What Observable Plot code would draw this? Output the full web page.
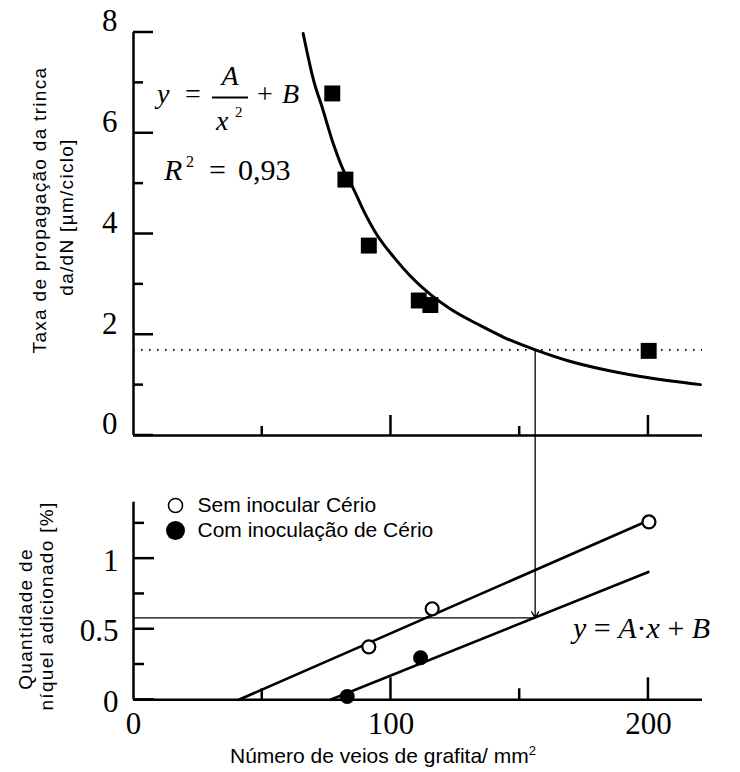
<!DOCTYPE html>
<html>
<head>
<meta charset="utf-8">
<script src="https://cdn.jsdelivr.net/npm/d3@7"></script>
<script src="https://cdn.jsdelivr.net/npm/@observablehq/plot@0.6"></script>
<style>
  body { margin: 0; background: #fff; }
  #chart { position: relative; width: 740px; height: 772px; background: #fff; }
  #chart svg { position: absolute; left: 0; }
</style>
</head>
<body>
<div id="chart"></div>
<script>
// ---- Crack growth rate vs. graphite vein count (upper panel) ----
const specimenVeins = [77.2, 82.3, 91.4, 110.8, 115.3, 200.1];
const specimenRates = [6.79, 5.08, 3.77, 2.68, 2.59, 1.68];

// fitted curve y = A/x² + B, sampled along the drawn line
const fitVeins = [65.9, 70.0, 73.3, 77.8, 82.3, 84.9, 89.4, 94.6, 101.1, 107.6, 115.3, 123.1, 134.8, 143.8, 156.1, 168.4, 182.6, 196.9, 220.2];
const fitRates = [7.98, 7.04, 6.51, 5.76, 5.18, 4.95, 4.46, 3.98, 3.54, 3.16, 2.80, 2.51, 2.18, 1.95, 1.70, 1.49, 1.31, 1.17, 1.01];

// reading: target rate -> required vein count -> required nickel
const targetRate = 1.70;
const targetVeins = 156;
const targetNickel = 0.58;

// ---- Nickel added vs. graphite vein count (lower panel) ----
const legendLabels = ["Sem inocular Cério", "Com inoculação de Cério"];
const semVeins = [91.4, 116, 200.2];
const semNickel = [0.375, 0.645, 1.26];
const comVeins = [83, 111.5];
const comNickel = [0.023, 0.298];
const semFitVeins = [40.9, 200];
const semFitNickel = [0, 1.27];
const comFitVeins = [76.5, 200];
const comFitNickel = [0, 0.906];

// axis ticks
const xDomain = [0, 221];
const xMajor = [100, 200];
const xMinor = [50, 150];
const xLabels = [0, 100, 200];
const yTopMajor = [0, 2, 4, 6, 8];
const yTopMinor = [1, 3, 5, 7];
const yBotMajor = [0, 0.5, 1];
const yBotMinor = [0.25, 0.75, 1.25];

const xTitle = "Número de veios de grafita/ mm";
const yTopTitle = ["Taxa de propagação da trinca", "da/dN [µm/ciclo]"];
const yBotTitle = ["Quantidade de", "níquel adicionado [%]"];

// tables built from the arrays above
const specimens = specimenVeins.map((x, i) => ({x, y: specimenRates[i]}));
const fitCurve = fitVeins.map((x, i) => ({x, y: fitRates[i]}));
const semPoints = semVeins.map((x, i) => ({x, y: semNickel[i]}));
const comPoints = comVeins.map((x, i) => ({x, y: comNickel[i]}));
const fitLines = [
  ...semFitVeins.map((x, i) => ({x, y: semFitNickel[i], series: legendLabels[0]})),
  ...comFitVeins.map((x, i) => ({x, y: comFitNickel[i], series: legendLabels[1]}))
];

const SERIF = "'Liberation Serif', 'DejaVu Serif', serif";
const SANS = "'Liberation Sans', Arial, sans-serif";
const AXIS_W = 2.5;

// annotation text (equations, titles) drawn in the plot's own SVG
function annotations(items) {
  return () => {
    const g = d3.create("svg:g");
    for (const it of items) {
      if (it.line) {
        g.append("line").attr("x1", it.line[0]).attr("y1", it.line[1])
          .attr("x2", it.line[2]).attr("y2", it.line[3])
          .attr("stroke", "black").attr("stroke-width", it.width || 1.6);
        continue;
      }
      const t = g.append("text")
        .attr("font-family", it.font || SERIF)
        .attr("font-size", it.size || 28)
        .attr("font-style", it.italic ? "italic" : null)
        .attr("text-anchor", it.anchor || "start")
        .attr("letter-spacing", it.spacing || null)
        .attr("fill", "black");
      if (it.rotate) t.attr("transform", `translate(${it.x},${it.y}) rotate(${it.rotate})`);
      else t.attr("x", it.x).attr("y", it.y);
      if (it.parts) {
        for (const p of it.parts) {
          const s = t.append("tspan").text(p.text);
          if (p.size) s.attr("font-size", p.size);
          if (p.dy) s.attr("dy", p.dy);
          if (p.italic) s.attr("font-style", "italic");
        }
      } else t.text(it.text);
    }
    return g.node();
  };
}

// ticks pointing into the frame, placed with the plot's own scales
function inwardTicksY(values, size) {
  return (index, scales) => {
    const g = d3.create("svg:g").attr("stroke", "black").attr("stroke-width", AXIS_W);
    const x0 = scales.x(xDomain[0]);
    for (const v of values) {
      const y = scales.y(v);
      g.append("line").attr("x1", x0).attr("x2", x0 + size).attr("y1", y).attr("y2", y);
    }
    return g.node();
  };
}
function inwardTicksX(values, size) {
  return (index, scales) => {
    const g = d3.create("svg:g").attr("stroke", "black").attr("stroke-width", AXIS_W);
    const y0 = scales.y(0);
    for (const v of values) {
      const x = scales.x(v);
      g.append("line").attr("x1", x).attr("x2", x).attr("y1", y0).attr("y2", y0 - size);
    }
    return g.node();
  };
}

const upper = Plot.plot({
  width: 740,
  height: 470,
  marginLeft: 133,
  marginRight: 38,
  marginTop: 32,
  marginBottom: 35,
  x: {domain: xDomain, axis: null},
  y: {domain: [0, 8]},
  style: {fontFamily: SANS, background: "white", overflow: "hidden"},
  marks: [
    Plot.ruleY([targetRate], {strokeDasharray: "1.6,6.4", strokeWidth: 1.6}),
    Plot.ruleX([targetVeins], {y1: targetRate, y2: -3, strokeWidth: 1.3}),
    Plot.line(fitCurve, {x: "x", y: "y", curve: "monotone-x", strokeWidth: 3}),
    Plot.dot(specimens, {x: "x", y: "y", symbol: "square", r: 9, fill: "black"}),
    Plot.ruleX([0], {y1: 0, y2: 8, strokeWidth: AXIS_W}),
    Plot.ruleY([0], {strokeWidth: AXIS_W}),
    Plot.axisY({ticks: yTopMajor, tickSize: 0, tickPadding: 16, dy: -11, fontSize: 31, fontFamily: SERIF, label: null}),
    annotations([
      {text: yTopTitle[0], x: 46, y: 210, rotate: -90, anchor: "middle", font: SANS, size: 19, spacing: 1.3},
      {text: yTopTitle[1], x: 73, y: 217, rotate: -90, anchor: "middle", font: SANS, size: 19, spacing: 1.3},
      {text: "y", x: 157, y: 103, italic: true, size: 28},
      {text: "=", x: 185, y: 103, size: 28},
      {text: "A", x: 230, y: 85, italic: true, anchor: "middle", size: 28},
      {line: [212, 97.5, 248, 97.5], width: 1.8},
      {text: "x", x: 216, y: 130, italic: true, size: 28},
      {text: "2", x: 235, y: 117, size: 15},
      {text: "+", x: 257, y: 103, size: 28},
      {text: "B", x: 282, y: 103, italic: true, size: 28},
      {text: "R", x: 164, y: 180, italic: true, size: 30},
      {text: "2", x: 186, y: 167, size: 16},
      {text: "=", x: 209, y: 180, size: 30},
      {text: "0,93", x: 238, y: 180, size: 30}
    ]),
    inwardTicksX(xMajor, 20),
    inwardTicksX(xMinor, 9),
    inwardTicksY(yTopMajor, 20),
    inwardTicksY(yTopMinor, 10)
  ]
});
upper.style.top = "0px";

const lower = Plot.plot({
  width: 740,
  height: 302,
  marginLeft: 133,
  marginRight: 38,
  marginTop: 31.7,
  marginBottom: 72.7,
  x: {domain: xDomain, axis: null},
  y: {domain: [0, 1.4]},
  style: {fontFamily: SANS, background: "white", overflow: "hidden"},
  marks: [
    Plot.ruleY([targetNickel], {x1: 0, x2: targetVeins, strokeWidth: 1.3}),
    Plot.arrow([targetNickel], {x1: targetVeins, y1: 3, x2: targetVeins, y2: (d) => d, headLength: 8, strokeWidth: 1.3}),
    Plot.line(fitLines, {x: "x", y: "y", z: "series", strokeWidth: 2.6}),
    Plot.dot(semPoints, {x: "x", y: "y", r: 6.5, fill: "white", stroke: "black", strokeWidth: 2.2}),
    Plot.dot(comPoints, {x: "x", y: "y", r: 7.5, fill: "black"}),
    Plot.ruleX([0], {y1: 0, y2: 1.4, strokeWidth: AXIS_W}),
    Plot.ruleY([0], {strokeWidth: AXIS_W}),
    Plot.axisY({ticks: yBotMajor, tickSize: 0, tickPadding: 15, dy: 2, fontSize: 31, fontFamily: SERIF, label: null, tickFormat: (d) => String(d)}),
    // x tick labels along the bottom of the frame
    Plot.text(xLabels, {x: (d) => d, text: (d) => String(d), frameAnchor: "bottom", lineAnchor: "top", dy: 12, fontSize: 31, fontFamily: SERIF}),
    // legend
    Plot.dot([legendLabels[0]], {frameAnchor: "top-left", dx: 42, dy: 3.3, r: 7, fill: "white", stroke: "black", strokeWidth: 1.5}),
    Plot.dot([legendLabels[1]], {frameAnchor: "top-left", dx: 42, dy: 28.3, r: 9.5, fill: "black"}),
    Plot.text([legendLabels[0]], {text: (d) => d, frameAnchor: "top-left", dx: 64, dy: 3.3, textAnchor: "start", lineAnchor: "middle", fontSize: 21, fontFamily: SANS}),
    Plot.text([legendLabels[1]], {text: (d) => d, frameAnchor: "top-left", dx: 64, dy: 28.3, textAnchor: "start", lineAnchor: "middle", fontSize: 21, fontFamily: SANS}),
    annotations([
      {text: yBotTitle[0], x: 32, y: 149, rotate: -90, anchor: "middle", font: SANS, size: 19, spacing: 1.3},
      {text: yBotTitle[1], x: 53, y: 136, rotate: -90, anchor: "middle", font: SANS, size: 19, spacing: 1.3},
      {font: SANS, size: 21, x: 383, y: 293, anchor: "middle", parts: [{text: xTitle}, {text: "2", size: 13, dy: -8}]},
      {size: 30, x: 573, y: 168, parts: [
        {text: "y", italic: true}, {text: " = "}, {text: "A", italic: true},
        {text: "·"}, {text: "x", italic: true}, {text: " + "}, {text: "B", italic: true}
      ]}
    ]),
    inwardTicksX(xMajor, 22),
    inwardTicksX(xMinor, 11),
    inwardTicksY(yBotMajor, 21),
    inwardTicksY(yBotMinor, 11)
  ]
});
lower.style.top = "470px";

const chart = document.getElementById("chart");
chart.append(upper, lower);
</script>
</body>
</html>
